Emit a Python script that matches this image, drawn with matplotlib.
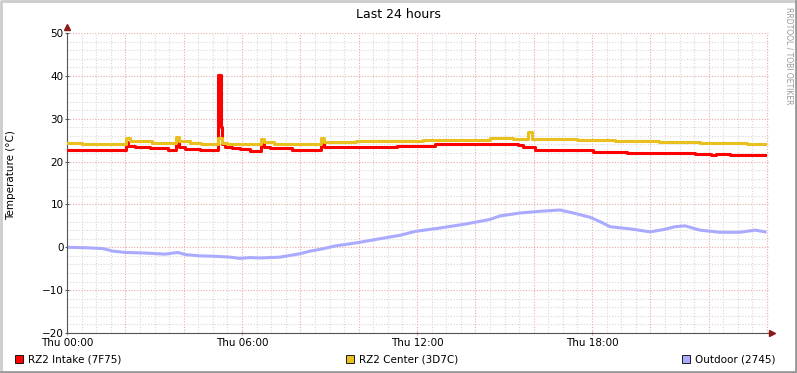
import matplotlib
matplotlib.use("Agg")
from matplotlib import pyplot as plt
from matplotlib.patches import Rectangle
from matplotlib.lines import Line2D

# hours since Thu 00:00 and temperatures
intake_hours = [0.0, 1.3, 1.65, 2.02, 2.1, 2.33, 2.85, 3.46, 3.74, 3.84, 4.05, 4.56,
                5.18, 5.28, 5.33, 5.42, 5.66, 5.93, 6.27, 6.65, 6.75, 6.96, 7.71,
                8.71, 8.81, 9.36, 9.91, 11.31, 12.62, 13.71, 15.46, 15.63, 15.87,
                16.04, 18.03, 19.2, 21.53, 22.08, 22.25, 22.73, 23.93]
intake_vals = [22.8, 22.6, 22.8, 24.6, 23.6, 23.3, 23.1, 22.8, 24.3, 23.4, 23.0, 22.8,
               40.2, 28.1, 24.0, 23.5, 23.2, 22.9, 22.5, 24.3, 23.5, 23.1, 22.7,
               24.0, 23.5, 23.3, 23.5, 23.7, 24.0, 24.2, 23.8, 23.3, 23.4,
               22.7, 22.3, 22.0, 21.8, 21.5, 21.8, 21.6, 21.6]

center_hours = [0.0, 0.5, 1.2, 2.02, 2.15, 2.9, 3.74, 3.85, 4.2, 4.6, 5.18, 5.3, 5.5,
                6.65, 6.75, 7.1, 8.71, 8.81, 9.9, 12.2, 14.5, 15.3, 15.8, 15.95,
                17.5, 18.8, 20.3, 21.7, 23.3, 23.93]
center_vals = [24.4, 24.2, 24.0, 25.4, 24.8, 24.3, 25.7, 24.8, 24.3, 24.0, 25.4, 24.3, 24.1,
               25.3, 24.6, 24.2, 25.4, 24.6, 24.9, 25.1, 25.4, 25.2, 27.0, 25.3,
               25.1, 24.8, 24.6, 24.4, 24.1, 24.1]

outdoor_hours = [0.0, 0.62, 1.23, 1.58, 1.99, 2.5, 2.85, 3.36, 3.8, 4.05, 4.56, 5.07,
                 5.59, 5.93, 6.27, 6.62, 7.3, 7.64, 7.99, 8.33, 8.74, 9.19, 9.98,
                 10.73, 11.42, 11.93, 12.79, 13.64, 14.5, 14.84, 15.53, 16.22, 16.9,
                 17.42, 17.93, 18.27, 18.62, 19.3, 19.99, 20.5, 20.84, 21.19, 21.7,
                 22.39, 23.07, 23.59, 23.93]
outdoor_vals = [0.0, -0.1, -0.3, -0.9, -1.2, -1.3, -1.4, -1.6, -1.2, -1.7, -2.0, -2.1,
                -2.3, -2.6, -2.4, -2.5, -2.3, -1.9, -1.5, -0.9, -0.4, 0.3, 1.1,
                2.0, 2.8, 3.7, 4.5, 5.4, 6.5, 7.3, 8.0, 8.4, 8.7,
                7.9, 7.0, 6.0, 4.8, 4.3, 3.6, 4.2, 4.8, 5.0, 4.0,
                3.5, 3.5, 4.0, 3.6]

tick_hours = [0, 6, 12, 18]
tick_labels = ["Thu 00:00", "Thu 06:00", "Thu 12:00", "Thu 18:00"]
legend_labels = ["RZ2 Intake (7F75)", "RZ2 Center (3D7C)", "Outdoor (2745)"]

RED = "#FF0000"
YELLOW = "#EAC01E"
BLUE = "#AAAAFF"
W, H = 797, 373

fig = plt.figure(figsize=(W / 100, H / 100), dpi=100, facecolor="white")
ax = fig.add_axes([67 / W, 40 / H, 705 / W, 300 / H])
ax.set_facecolor("white")
ax.set_xlim(0, 24.17)
ax.set_ylim(-20, 50)

# grid: minor grey, major reddish, both dotted
for h in [i * 0.5 for i in range(49)]:
    major = h % 2 == 0
    ax.axvline(h, color="#EBA8A8" if major else "#D8D8D8", lw=0.8, ls=(0, (1, 1.5)), zorder=0)
for v in range(-20, 51, 2):
    major = v % 10 == 0
    ax.plot([0, 24.03], [v, v], color="#EBA8A8" if major else "#D8D8D8",
            lw=0.8, ls=(0, (1, 1.5)), zorder=0)

ax.plot(outdoor_hours, outdoor_vals, color=BLUE, lw=2.2, zorder=2)
ax.plot(intake_hours, intake_vals, color=RED, lw=2.2, drawstyle="steps-post", zorder=3)
ax.plot(center_hours, center_vals, color=YELLOW, lw=2.2, drawstyle="steps-post", zorder=3)

for s in ["top", "right"]:
    ax.spines[s].set_visible(False)
for s in ["left", "bottom"]:
    ax.spines[s].set_color("#555555")
    ax.spines[s].set_linewidth(0.8)

ax.set_xticks(tick_hours)
ax.set_xticklabels(tick_labels)
ax.set_yticks(range(-20, 51, 10))
ax.tick_params(axis="both", labelsize=7.5, colors="black", length=3, width=0.8,
               direction="inout")
ax.tick_params(axis="x", color="#E8A0A0", pad=2)
ax.tick_params(axis="y", color="#555555", pad=1)

# axis arrows
ax.plot([24.17], [-20], marker=">", color="#8B1A1A", ms=4, clip_on=False, zorder=5)
ax.plot([0], [51.3], marker="^", color="#8B1A1A", ms=4, clip_on=False, zorder=5)

fig.text(398 / W, 1 - 14 / H, "Last 24 hours", ha="center", va="center", fontsize=9)
fig.text(11 / W, 1 - 175 / H, "Temperature (°C)", ha="center", va="center",
         rotation=90, fontsize=7.5)
fig.text(789 / W, 1 - 56 / H, "RRDTOOL / TOBI OETIKER", ha="center", va="center",
         rotation=270, fontsize=5.5, color="#999999")

# legend row
legend_x = [15, 346, 682]
for x, lab, c in zip(legend_x, legend_labels, [RED, YELLOW, BLUE]):
    fig.patches.append(Rectangle((x / W, 1 - 363 / H), 8 / W, 8 / H, transform=fig.transFigure,
                                 facecolor=c, edgecolor="black", lw=0.6))
    fig.text((x + 13) / W, 1 - 359 / H, lab, ha="left", va="center", fontsize=7.5)

# 3d frame around the image
fig.add_artist(Line2D([0.5 / W, 0.5 / W, 1 - 0.5 / W], [0, 1 - 0.5 / H, 1 - 0.5 / H],
                      transform=fig.transFigure, color="#CCCCCC", lw=2))
fig.add_artist(Line2D([0.5 / W, 1 - 1 / W, 1 - 1 / W], [1 / H, 1 / H, 1 - 0.5 / H],
                      transform=fig.transFigure, color="#999999", lw=2))

fig.savefig("out.png", dpi=100, facecolor="white")
